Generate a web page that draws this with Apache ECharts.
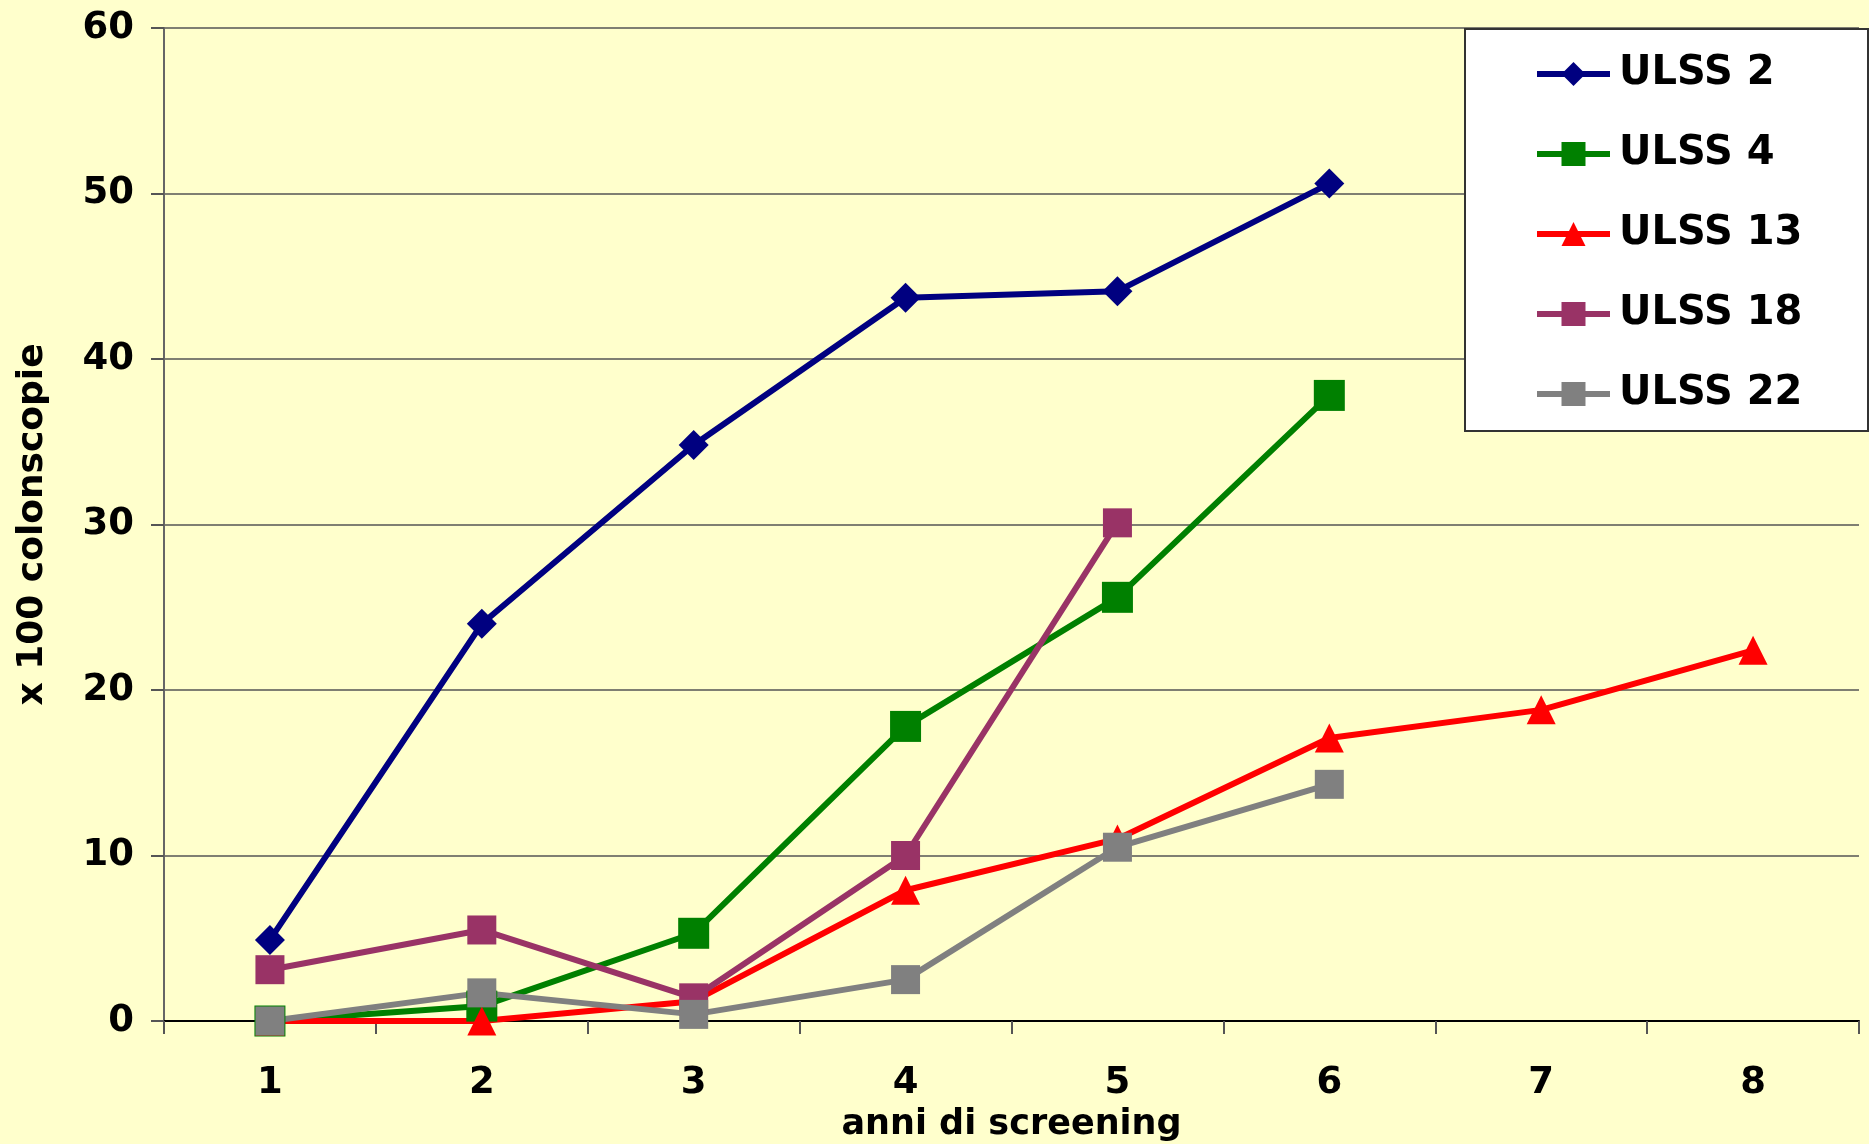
<!DOCTYPE html>
<html>
<head>
<meta charset="utf-8">
<script src="https://cdn.jsdelivr.net/npm/echarts@6/dist/echarts.min.js"></script>
<style>
html,body{margin:0;padding:0;background:#FFFFCC;}
#chart{width:1869px;height:1144px;}
</style>
</head>
<body>
<div id="chart"></div>
<script>
const categories = ['1','2','3','4','5','6','7','8'];
const seriesNames = ['ULSS 2','ULSS 4','ULSS 13','ULSS 18','ULSS 22'];
const ulss2  = [4.9, 24.0, 34.8, 43.7, 44.1, 50.6, null, null];
const ulss4  = [0, 0.9, 5.3, 17.8, 25.6, 37.8, null, null];
const ulss13 = [0, 0, 1.2, 7.9, 11.0, 17.1, 18.8, 22.4];
const ulss18 = [3.1, 5.5, 1.4, 10.0, 30.1, null, null, null];
const ulss22 = [0, 1.7, 0.4, 2.5, 10.5, 14.3, null, null];
const yTicks = {min: 0, max: 60, interval: 10};

const FONT = 'DejaVu Sans';
const chart = echarts.init(document.getElementById('chart'));

function mk(name, data, color, symbol, size) {
  return {
    name: name, type: 'line', data: data,
    symbol: symbol, symbolSize: size, showAllSymbol: true,
    connectNulls: false,
    lineStyle: {color: color, width: 6},
    itemStyle: {color: color},
    emphasis: {disabled: true}
  };
}

chart.setOption({
  backgroundColor: '#FFFFCC',
  animation: false,
  grid: {left: 164, right: 10, top: 28, bottom: 123, containLabel: false, outerBoundsMode: 'none'},
  xAxis: {
    type: 'category', data: categories, boundaryGap: true,
    name: 'anni di screening', nameLocation: 'middle', nameGap: 86,
    nameTextStyle: {fontFamily: FONT, fontWeight: 'bold', fontSize: 35, color: '#000'},
    axisLine: {lineStyle: {color: '#000', width: 2}},
    axisTick: {show: true, length: 13, alignWithLabel: false, lineStyle: {color: '#555', width: 2}},
    axisLabel: {fontFamily: FONT, fontWeight: 'bold', fontSize: 37, color: '#000', margin: 44},
    splitLine: {show: false}
  },
  yAxis: {
    type: 'value', min: yTicks.min, max: yTicks.max, interval: yTicks.interval,
    name: 'x 100 colonscopie', nameLocation: 'middle', nameGap: 113, nameRotate: 90,
    nameTextStyle: {fontFamily: FONT, fontWeight: 'bold', fontSize: 36, color: '#000'},
    axisLine: {show: true, lineStyle: {color: '#666', width: 2}},
    axisTick: {show: true, length: 13, lineStyle: {color: '#555', width: 2}},
    axisLabel: {fontFamily: FONT, fontWeight: 'bold', fontSize: 37, color: '#000', margin: 30},
    splitLine: {show: true, lineStyle: {color: '#555', width: 1.5}}
  },
  graphic: [{
    type: 'rect', left: 1464, top: 28, z: 5,
    shape: {width: 403, height: 402},
    style: {fill: '#FFFFFF', stroke: '#333', lineWidth: 2}
  }],
  legend: {
    orient: 'vertical', left: 1534, top: 54, padding: 0, z: 10,
    itemWidth: 73, itemHeight: 30, itemGap: 40,
    data: seriesNames,
    lineStyle: {width: 6},
    textStyle: {fontFamily: FONT, fontWeight: 'bold', fontSize: 40, color: '#000', lineHeight: 30, height: 30, padding: [0,0,0,4]}
  },
  series: [
    mk(seriesNames[0], ulss2, '#000080', 'diamond', 30),
    mk(seriesNames[1], ulss4, '#008000', 'rect', 31),
    mk(seriesNames[2], ulss13, '#FF0000', 'triangle', 29),
    mk(seriesNames[3], ulss18, '#993366', 'rect', 29),
    mk(seriesNames[4], ulss22, '#808080', 'rect', 29)
  ]
});
</script>
</body>
</html>
